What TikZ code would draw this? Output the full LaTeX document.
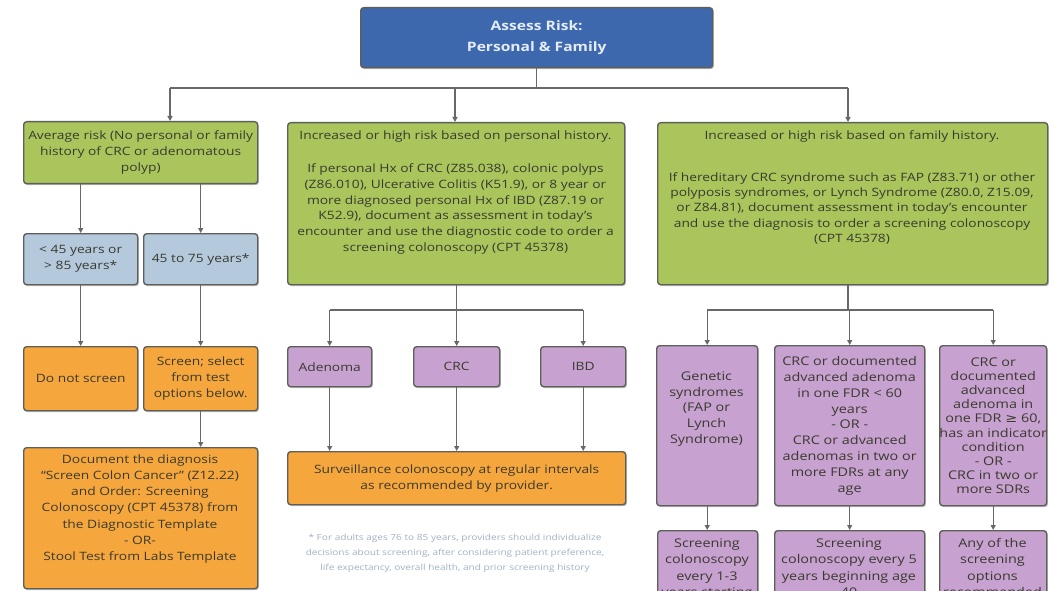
\documentclass[tikz,border=0pt]{standalone}
\usepackage{fontspec}
\setmainfont{Open Sans}[FakeStretch=1.2]
\newfontfamily\symf{DejaVu Sans}[FakeStretch=1.2]
\usetikzlibrary{arrows.meta,shadows}
\definecolor{topblue}{HTML}{3E68AE}
\definecolor{topfg}{HTML}{E4ECF8}
\definecolor{grn}{HTML}{A9C55C}
\definecolor{lblue}{HTML}{B5C9DC}
\definecolor{orng}{HTML}{F5A63C}
\definecolor{purp}{HTML}{C7A1CF}
\definecolor{bord}{HTML}{5F5F5A}
\definecolor{lnc}{HTML}{686868}
\definecolor{txtc}{HTML}{3A3A30}
\definecolor{footc}{HTML}{A2B1C6}
\tikzset{
  box/.style={draw=bord, line width=1.4pt, rounded corners=3pt, inner sep=0pt,
    anchor=north west,
    drop shadow={shadow xshift=1.2pt, shadow yshift=-1.5pt, opacity=0.25, fill=black}},
  txt/.style={align=center, inner sep=0pt, text=txtc, font=\fontsize{11.5}{16}\selectfont},
  ln/.style={draw=lnc, line width=1.4pt},
  arr/.style={ln, -{Triangle[length=5pt,width=5pt]}},
}
\begin{document}
\begin{tikzpicture}[x=1pt,y=-1pt]
\useasboundingbox (0,0) rectangle (1053,591);
\fill[white] (0,0) rectangle (1053,591);
\clip (0,0) rectangle (1053,591);

% ---- top
\node[box, fill=topblue, minimum width=352pt, minimum height=60pt] (top) at (360,7) {};
\node[txt, text=topfg, font=\fontsize{13}{21}\selectfont\bfseries] (top-t) at (top.center) {Assess Risk:\\Personal \& Family};

% ---- level 1
\node[box, fill=grn, minimum width=234pt, minimum height=62pt] (avg) at (23,121) {};
\node[txt] (avg-t) at (avg.center) {Average risk (No personal or family\\history of CRC or adenomatous\\polyp)};

\node[box, fill=grn, minimum width=337pt, minimum height=162pt] (mid) at (287,122) {};
\node[txt, anchor=north, font=\fontsize{11.5}{15.7}\selectfont] (mid-t) at (455.5,131) {Increased or high risk based on personal history.\\[17pt]If personal Hx of CRC (Z85.038), colonic polyps\\(Z86.010), Ulcerative Colitis (K51.9), or 8 year or\\more diagnosed personal Hx of IBD (Z87.19 or\\K52.9), document as assessment in today's\\encounter and use the diagnostic code to order a\\screening colonoscopy (CPT 45378)};

\node[box, fill=grn, minimum width=390pt, minimum height=162pt] (fam) at (657,122) {};
\node[txt, anchor=north, font=\fontsize{11.5}{15.3}\selectfont] (fam-t) at (852,131) {Increased or high risk based on family history.\\[26pt]If hereditary CRC syndrome such as FAP (Z83.71) or other\\polyposis syndromes, or Lynch Syndrome (Z80.0, Z15.09,\\or Z84.81), document assessment in today's encounter\\and use the diagnosis to order a screening colonoscopy\\(CPT 45378)};

% ---- left column
\node[box, fill=lblue, minimum width=114pt, minimum height=51pt] (lt) at (23,233) {};
\node[txt] (lt-t) at (lt.center) {< 45 years or\\> 85 years*};
\node[box, fill=lblue, minimum width=114pt, minimum height=51pt] (ge) at (143,233) {};
\node[txt] (ge-t) at (ge.center) {45 to 75 years*};

\node[box, fill=orng, minimum width=114pt, minimum height=64pt] (no) at (23,346) {};
\node[txt] (no-t) at (no.center) {Do not screen};
\node[box, fill=orng, minimum width=114pt, minimum height=64pt] (scr) at (143,346) {};
\node[txt] (scr-t) at (scr.center) {Screen; select\\from test\\options below.};

\node[box, fill=orng, minimum width=234pt, minimum height=141pt] (doc) at (23,447) {};
\node[txt, font=\fontsize{11.5}{16.3}\selectfont] (doc-t) at (140,509) {Document the diagnosis\\“Screen Colon Cancer” (Z12.22)\\and Order: Screening\\Colonoscopy (CPT 45378) from\\the Diagnostic Template\\- OR-\\Stool Test from Labs Template};

% ---- middle column
\node[box, fill=purp, minimum width=84pt, minimum height=40pt] (aden) at (287,346) {};
\node[txt] (aden-t) at (aden.center) {Adenoma};
\node[box, fill=purp, minimum width=86pt, minimum height=40pt] (crc) at (413,346) {};
\node[txt] (crc-t) at (crc.center) {CRC};
\node[box, fill=purp, minimum width=85pt, minimum height=40pt] (ibd) at (540,346) {};
\node[txt] (ibd-t) at (ibd.center) {IBD};

\node[box, fill=orng, minimum width=338pt, minimum height=53pt] (surv) at (287,451) {};
\node[txt] (surv-t) at (surv.center) {Surveillance colonoscopy at regular intervals\\as recommended by provider.};

\node[txt, text=footc, font=\fontsize{8.4}{15}\selectfont] (fn) at (455,553) {* For adults ages 76 to 85 years, providers should individualize\\decisions about screening, after considering patient preference,\\life expectancy, overall health, and prior screening history};

% ---- right column
\node[box, fill=purp, minimum width=101pt, minimum height=160pt] (gen) at (656,345) {};
\node[txt, font=\fontsize{12}{15.8}\selectfont] (gen-t) at (706.5,409) {Genetic\\syndromes\\(FAP or\\Lynch\\Syndrome)};
\node[box, fill=purp, minimum width=150pt, minimum height=160pt] (fdr) at (774,345) {};
\node[txt, font=\fontsize{12}{15.8}\selectfont] (fdr-t) at (fdr.center) {CRC or documented\\advanced adenoma\\in one FDR < 60\\years\\- OR -\\CRC or advanced\\adenomas in two or\\more FDRs at any\\age};
\node[box, fill=purp, minimum width=107pt, minimum height=160pt] (sdr) at (939,345) {};
\node[txt, font=\fontsize{12}{14.2}\selectfont] (sdr-t) at (sdr.center) {CRC or\\documented\\advanced\\adenoma in\\one FDR {\symf ≥} 60,\\has an indicator\\condition\\- OR -\\CRC in two or\\more SDRs};

\node[box, fill=purp, minimum width=100pt, minimum height=80pt] (s1) at (657,530) {};
\node[txt, anchor=north, font=\fontsize{12}{16.5}\selectfont] (s1-t) at (707,538) {Screening\\colonoscopy\\every 1-3\\years starting};
\node[box, fill=purp, minimum width=150pt, minimum height=80pt] (s2) at (774,530) {};
\node[txt, anchor=north, font=\fontsize{12}{16.5}\selectfont] (s2-t) at (849,538) {Screening\\colonoscopy every 5\\years beginning age\\40};
\node[box, fill=purp, minimum width=107pt, minimum height=80pt] (s3) at (939,530) {};
\node[txt, anchor=north, font=\fontsize{12}{16.5}\selectfont] (s3-t) at (992.5,538) {Any of the\\screening\\options\\recommended};

% ---- connectors
\coordinate (L1) at (170,88);
\coordinate (M1) at (455,88);
\coordinate (R1) at (848,88);
\draw[ln] (top.south) -- (top.south |- L1);
\draw[ln] (L1) -- (R1);
\draw[arr] (L1) -- (L1 |- avg.north);
\draw[arr] (M1) -- (M1 |- mid.north);
\draw[arr] (R1) -- (R1 |- fam.north);

\draw[arr] (avg.south -| lt.north) -- (lt.north);
\draw[arr] (avg.south -| ge.north) -- (ge.north);
\draw[arr] (lt.south) -- (no.north);
\draw[arr] (ge.south) -- (scr.north);
\draw[arr] (scr.south) -- (scr.south |- doc.north);

\coordinate (mj) at (455.5,310);
\draw[ln] (mid.south) -- (mid.south |- mj);
\draw[ln] (aden.north |- mj) -- (ibd.north |- mj);
\draw[arr] (aden.north |- mj) -- (aden.north);
\draw[arr] (crc.north |- mj) -- (crc.north);
\draw[arr] (ibd.north |- mj) -- (ibd.north);
\draw[arr] (aden.south) -- (aden.south |- surv.north);
\draw[arr] (crc.south) -- (crc.south |- surv.north);
\draw[arr] (ibd.south) -- (ibd.south |- surv.north);

\coordinate (fj) at (848,310);
\draw[ln] (fj |- fam.south) -- (fj);
\draw[ln] (gen.north |- fj) -- (sdr.north |- fj);
\draw[arr] (gen.north |- fj) -- (gen.north);
\draw[arr] (fdr.north |- fj) -- (fdr.north);
\draw[arr] (sdr.north |- fj) -- (sdr.north);
\draw[arr] (gen.south) -- (gen.south |- s1.north);
\draw[arr] (fdr.south) -- (fdr.south |- s2.north);
\draw[arr] (sdr.south) -- (sdr.south |- s3.north);
\end{tikzpicture}
\end{document}
